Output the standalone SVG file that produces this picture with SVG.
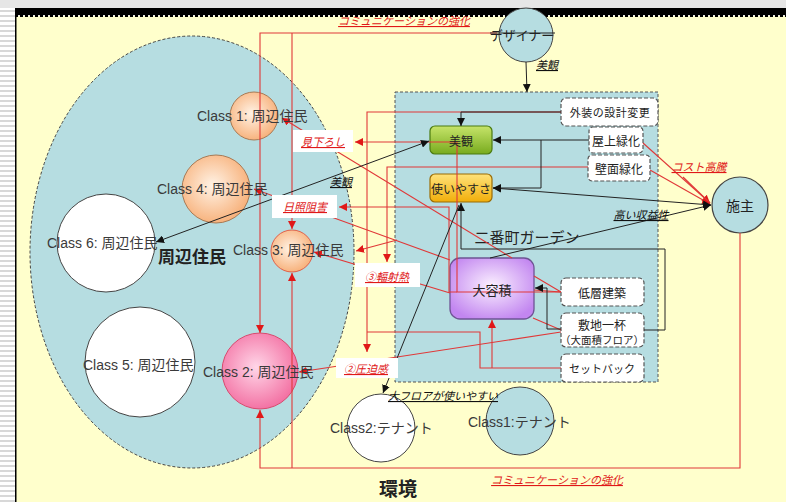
<svg xmlns="http://www.w3.org/2000/svg" width="786" height="502" viewBox="0 0 786 502">
<defs>
<style>
.t{font-family:"Liberation Sans","Noto Sans CJK JP",sans-serif;fill:#3a3a3a;dominant-baseline:central}
.jp{font-family:"Noto Sans CJK JP",sans-serif;fill:#222;dominant-baseline:central;text-anchor:middle}
.rl{font-family:"Noto Sans CJK JP",sans-serif;fill:#e01818;font-style:italic;text-decoration:underline;font-size:11px;dominant-baseline:central;text-anchor:middle}
.bl{font-family:"Noto Sans CJK JP",sans-serif;fill:#111;font-style:italic;text-decoration:underline;font-size:11px;dominant-baseline:central;text-anchor:middle}
.red{fill:none;stroke:#e03838;stroke-width:1.1}
.blk{fill:none;stroke:#222;stroke-width:1}
.sub{fill:#fff;stroke:#555;stroke-width:1.2;stroke-dasharray:4,2}
.lb{fill:#fff}
</style>
<marker id="ar" viewBox="0 0 10 10" refX="10" refY="5" markerWidth="8" markerHeight="8" markerUnits="userSpaceOnUse" orient="auto-start-reverse"><path d="M0,0 L10,5 L0,10 z" fill="#e01818"/></marker>
<marker id="ab" viewBox="0 0 10 10" refX="10" refY="5" markerWidth="8" markerHeight="8" markerUnits="userSpaceOnUse" orient="auto-start-reverse"><path d="M0,0 L10,5 L0,10 z" fill="#111"/></marker>
<pattern id="stripes" width="5" height="5" patternUnits="userSpaceOnUse"><rect width="5" height="5" fill="#fff"/><rect width="5" height="2" fill="#d8d8d8"/></pattern>
<radialGradient id="og" cx="0.45" cy="0.45" r="0.6"><stop offset="0" stop-color="#fff3e6"/><stop offset="1" stop-color="#f7ad74"/></radialGradient>
<radialGradient id="pg" cx="0.45" cy="0.45" r="0.6"><stop offset="0" stop-color="#ffd6e8"/><stop offset="1" stop-color="#f26a9e"/></radialGradient>
<radialGradient id="vg" cx="0.5" cy="0.45" r="0.6"><stop offset="0" stop-color="#fbf0ff"/><stop offset="1" stop-color="#c286f0"/></radialGradient>
<linearGradient id="gg" x1="0" y1="0" x2="0" y2="1"><stop offset="0" stop-color="#c6e46a"/><stop offset="1" stop-color="#78ab1e"/></linearGradient>
<linearGradient id="yg" x1="0" y1="0" x2="0" y2="1"><stop offset="0" stop-color="#ffe27a"/><stop offset="1" stop-color="#f1ae0a"/></linearGradient>
</defs>

<!-- page background -->
<rect x="0" y="0" width="786" height="502" fill="#e6e6e6"/>
<rect x="0" y="8" width="15" height="494" fill="url(#stripes)"/>
<rect x="16" y="16" width="770" height="486" fill="#ffffcc"/>
<rect x="15" y="8" width="771" height="7" fill="#000"/>
<line x1="15" y1="16" x2="786" y2="16" stroke="#000" stroke-width="2" stroke-dasharray="3,2"/>
<rect x="15" y="8" width="1.5" height="494" fill="#000"/>

<!-- regions -->
<g id="region-residents">
<ellipse cx="192" cy="252" rx="162" ry="216" fill="#b6dde1" stroke="#444" stroke-width="1" stroke-dasharray="3,2"/>
<text class="jp" x="192" y="255" font-size="17" font-weight="bold">周辺住民</text>
</g>
<g id="region-building">
<rect x="395" y="92" width="263" height="290" fill="#b6dde1" stroke="#555" stroke-width="1" stroke-dasharray="3,2"/>
<text class="jp" x="527" y="236" font-size="15">二番町ガーデン</text>
</g>
<text class="jp" x="398" y="487" font-size="19" font-weight="bold">環境</text>

<!-- circles -->
<g id="class1"><circle cx="254" cy="116" r="24" fill="url(#og)" stroke="#a77a55" stroke-width="1"/></g>
<g id="class4"><circle cx="216" cy="189" r="34" fill="url(#og)" stroke="#a77a55" stroke-width="1"/></g>
<g id="class6"><circle cx="106" cy="243" r="49" fill="#fff" stroke="#444" stroke-width="1"/></g>
<g id="class3"><circle cx="292" cy="251" r="21" fill="url(#og)" stroke="#e0604a" stroke-width="1"/></g>
<g id="class5"><circle cx="140" cy="362" r="55" fill="#fff" stroke="#444" stroke-width="1"/></g>
<g id="class2"><circle cx="260" cy="371" r="38" fill="url(#pg)" stroke="#d84a6e" stroke-width="1"/></g>
<g id="tenant2"><circle cx="381" cy="428" r="34" fill="#fff" stroke="#444" stroke-width="1"/></g>
<g id="tenant1"><circle cx="520" cy="421" r="34" fill="#b6dde1" stroke="#444" stroke-width="1"/></g>
<g id="designer"><circle cx="526" cy="35" r="27" fill="#b6dde1" stroke="#444" stroke-width="1"/></g>
<g id="owner"><circle cx="740" cy="205" r="28" fill="#b6dde1" stroke="#444" stroke-width="1.2"/></g>

<!-- building nodes -->
<g id="biken"><rect x="430" y="126" width="62" height="28" rx="5" fill="url(#gg)" stroke="#4a7a10" stroke-width="1.2"/></g>
<g id="tsukai"><rect x="430" y="174" width="62" height="28" rx="5" fill="url(#yg)" stroke="#9a6c05" stroke-width="1.2"/></g>
<g id="daiyoseki"><rect x="450" y="258" width="84" height="61" rx="10" fill="url(#vg)" stroke="#6e5494" stroke-width="1.3"/></g>
<g id="gaiso"><rect class="sub" x="561" y="98" width="97" height="28" rx="5"/></g>
<g id="okujo"><rect class="sub" x="589" y="127" width="54" height="26" rx="4"/></g>
<g id="hekimen"><rect class="sub" x="588" y="155" width="62" height="26" rx="4"/></g>
<g id="teiso"><rect class="sub" x="561" y="278" width="83" height="28" rx="5"/></g>
<g id="shikichi"><rect class="sub" x="561" y="313" width="83" height="34" rx="5"/></g>
<g id="setback"><rect class="sub" x="561" y="354" width="83" height="28" rx="5"/></g>

<!-- connectors -->
<g id="connectors">
<!-- red -->
<path class="red" d="M497,33 H260 V333" marker-end="url(#ar)"/>
<path class="red" d="M292,33 V229" marker-end="url(#ar)"/>
<path class="red" d="M740,233 V468 H260 V410" marker-end="url(#ar)"/>
<path class="red" d="M292,468 V273" marker-end="url(#ar)"/>
<path class="red" d="M561,292 H457 V142 H355" marker-end="url(#ar)"/>
<path class="red" d="M457,292 H449 V207 H339" marker-end="url(#ar)"/>
<path class="red" d="M588,167 H387 V262" marker-end="url(#ar)"/>
<path class="red" d="M561,112 H367 V352" marker-end="url(#ar)"/>
<path class="red" d="M561,368 H480 V332 H367"/>
<path class="red" d="M492,368 V320" marker-end="url(#ar)"/>
<path class="red" d="M512,258 L282,118" marker-end="url(#ar)"/>
<path class="red" d="M450,260 L254,189" marker-end="url(#ar)"/>
<path class="red" d="M397,240 L356,251" marker-end="url(#ar)"/>
<path class="red" d="M450,293 L314,252" marker-end="url(#ar)"/>
<path class="red" d="M561,332 L299,372" marker-end="url(#ar)"/>
<path class="red" d="M534,276 L561,292 M534,290 L561,292 M533,318 L561,330"/>
<path class="red" d="M643,143 L710,203" marker-end="url(#ar)"/>
<path class="red" d="M650,170 L710,204" marker-end="url(#ar)"/>
<path class="red" d="M683,177 L710,203"/>
<!-- black -->
<path class="blk" d="M490,33 H555" stroke="#444"/>
<path class="blk" d="M526,62 L527,92" marker-end="url(#ab)"/>
<path class="blk" d="M561,112 H461 V126" marker-end="url(#ab)"/>
<path class="blk" d="M589,140 H493" marker-end="url(#ab)"/>
<path class="blk" d="M541,140 V188 H493" marker-end="url(#ab)"/>
<path class="blk" d="M493,188 L711,205" marker-start="url(#ab)" marker-end="url(#ab)"/>
<path class="blk" d="M490,258 L711,205" marker-end="url(#ab)"/>
<path class="blk" d="M644,330 H665 V249 H461 V203" marker-end="url(#ab)"/>
<path class="blk" d="M561,329 H547 V288 H535" marker-end="url(#ab)"/>
<path class="blk" d="M459,205 L383,393" marker-end="url(#ab)"/>
<path class="blk" d="M156,242 L429,141" marker-start="url(#ab)" marker-end="url(#ab)"/>
</g>

<!-- connector labels -->
<g id="labels">
<text class="rl" x="404" y="20">コミュニケーションの強化</text>
<text class="rl" x="557" y="479">コミュニケーションの強化</text>
<rect class="lb" x="293" y="130" width="60" height="22"/>
<text class="rl" x="323" y="141">見下ろし</text>
<rect class="lb" x="272" y="195" width="65" height="23"/>
<text class="rl" x="305" y="206" font-size="12">日照阻害</text>
<rect class="lb" x="355" y="263" width="65" height="24"/>
<text class="rl" x="387" y="276" font-size="12">③輻射熱</text>
<rect class="lb" x="336" y="358" width="62" height="20"/>
<text class="rl" x="366" y="368">②圧迫感</text>
<text class="rl" x="699" y="166">コスト高騰</text>
<text class="bl" x="547" y="64">美観</text>
<text class="bl" x="341" y="181">美観</text>
<text class="bl" x="641" y="214">高い収益性</text>
<text class="bl" x="443" y="395">大フロアが使いやすい</text>
</g>

<!-- node texts -->
<g id="texts">
<text class="t" x="197" y="116" font-size="14">Class 1: 周辺住民</text>
<text class="t" x="157" y="189" font-size="14">Class 4: 周辺住民</text>
<text class="t" x="47" y="243" font-size="14">Class 6: 周辺住民</text>
<text class="t" x="233" y="250" font-size="14">Class 3: 周辺住民</text>
<text class="t" x="83" y="365" font-size="14">Class 5: 周辺住民</text>
<text class="t" x="203" y="372" font-size="14">Class 2: 周辺住民</text>
<text class="t" x="330" y="428" font-size="14">Class2:テナント</text>
<text class="t" x="468" y="422" font-size="14">Class1:テナント</text>
<text class="jp" x="522" y="34" font-size="13">デザイナー</text>
<text class="jp" x="740" y="205" font-size="14">施主</text>
<text class="jp" x="461" y="140" font-size="12">美観</text>
<text class="jp" x="461" y="188" font-size="12">使いやすさ</text>
<text class="jp" x="492" y="289" font-size="13">大容積</text>
<text class="jp" x="610" y="112" font-size="11" letter-spacing="0.5">外装の設計変更</text>
<text class="jp" x="616" y="140" font-size="12">屋上緑化</text>
<text class="jp" x="619" y="168" font-size="12">壁面緑化</text>
<text class="jp" x="602" y="292" font-size="12">低層建築</text>
<text class="jp" x="602" y="324" font-size="12">敷地一杯</text>
<text class="jp" x="602" y="339" font-size="10.5">（大面積フロア）</text>
<text class="jp" x="602" y="368" font-size="11">セットバック</text>
</g>
</svg>
